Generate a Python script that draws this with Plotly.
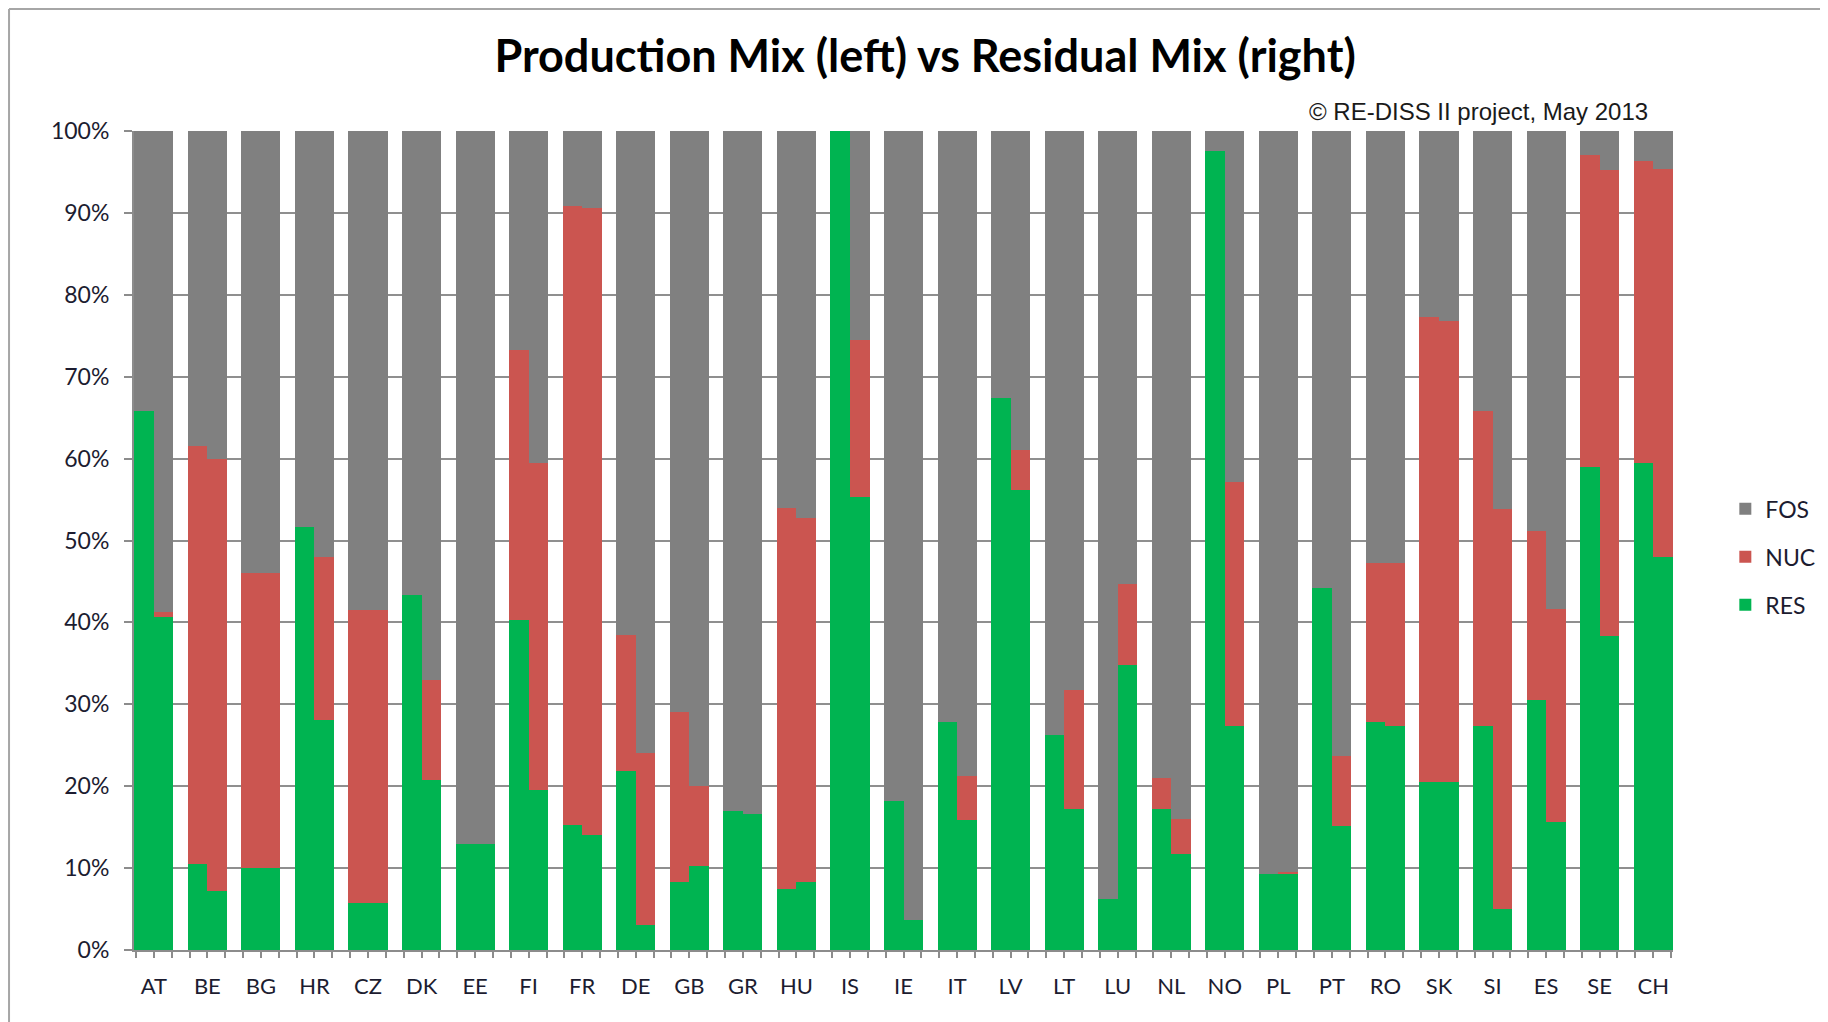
import plotly.graph_objects as go

countries = ["AT", "BE", "BG", "HR", "CZ", "DK", "EE", "FI", "FR", "DE", "GB", "GR", "HU", "IS", "IE",
             "IT", "LV", "LT", "LU", "NL", "NO", "PL", "PT", "RO", "SK", "SI", "ES", "SE", "CH"]

# Production mix (left bar), % shares
prod_res = [65.8, 10.5, 10.0, 51.6, 5.8, 43.4, 13.0, 40.3, 15.3, 21.8, 8.3, 17.0, 7.5, 100.0, 18.2,
            27.8, 67.4, 26.3, 6.2, 17.2, 97.6, 9.3, 44.2, 27.8, 20.5, 27.4, 30.5, 59.0, 59.5]
prod_nuc = [0.0, 51.0, 36.0, 0.0, 35.7, 0.0, 0.0, 32.9, 75.5, 16.7, 20.7, 0.0, 46.5, 0.0, 0.0,
            0.0, 0.0, 0.0, 0.0, 3.8, 0.0, 0.0, 0.0, 19.5, 56.8, 38.4, 20.7, 38.1, 36.8]

# Residual mix (right bar), % shares
resid_res = [40.6, 7.2, 10.0, 28.1, 5.8, 20.8, 13.0, 19.5, 14.0, 3.0, 10.3, 16.6, 8.3, 55.3, 3.7,
             15.9, 56.2, 17.2, 34.8, 11.7, 27.3, 9.3, 15.1, 27.3, 20.5, 5.0, 15.6, 38.3, 48.0]
resid_nuc = [0.7, 52.8, 36.0, 19.9, 35.7, 12.2, 0.0, 40.0, 76.6, 21.0, 9.7, 0.0, 44.5, 19.2, 0.0,
             5.4, 4.8, 14.5, 9.9, 4.3, 29.9, 0.2, 8.6, 20.0, 56.3, 48.8, 26.0, 56.9, 47.3]

TOTAL = 100.0
prod_fos = [TOTAL - r - n for r, n in zip(prod_res, prod_nuc)]
resid_fos = [TOTAL - r - n for r, n in zip(resid_res, resid_nuc)]

tick_pct = list(range(0, 101, 10))

C_FOS = "#808080"
C_NUC = "#cb5550"
C_RES = "#00b451"
BW = 0.365
TXT = "#1c1c30"

xidx = list(range(len(countries)))

fig = go.Figure()

def add_stack(res, nuc, fos, offset, show):
    base_nuc = res
    base_fos = [r + n for r, n in zip(res, nuc)]
    for name, vals, base, col, rank in [("RES", res, [0] * len(res), C_RES, 3),
                                        ("NUC", nuc, base_nuc, C_NUC, 2),
                                        ("FOS", fos, base_fos, C_FOS, 1)]:
        fig.add_trace(go.Bar(
            x=xidx, y=vals, base=base, name=name, marker_color=col,
            marker_line_width=0, offset=offset, width=BW,
            legendgroup=name, legendrank=rank, showlegend=show,
            customdata=countries,
            hovertemplate="%{customdata} " + name + ": %{y:.1f}%<extra></extra>"))

add_stack(prod_res, prod_nuc, prod_fos, -BW, True)
add_stack(resid_res, resid_nuc, resid_fos, 0.0, False)

fig.update_layout(
    width=1828, height=1022,
    margin=dict(l=126, r=163, t=123, b=80, autoexpand=False),
    barmode="overlay",
    plot_bgcolor="white", paper_bgcolor="white",
    font=dict(family="Lato, Open Sans, sans-serif", color=TXT),
    title=dict(text="<b>Production Mix (left) vs Residual Mix (right)</b>",
               x=0.5017, xanchor="center", y=0.953, yanchor="middle",
               font=dict(size=45, family="Lato, Open Sans, sans-serif", color="#000000")),
    legend=dict(x=1.034, xanchor="left", y=0.48, yanchor="middle",
                traceorder="grouped", tracegroupgap=15,
                font=dict(size=23, family="Lato, sans-serif", color=TXT),
                itemwidth=30),
    showlegend=True,
    bargap=0,
)

fig.update_xaxes(
    range=[-0.37, len(countries) - 1 + 0.37],
    tickmode="array", tickvals=xidx, ticktext=countries,
    showgrid=False, zeroline=False,
    showline=True, linecolor="#8c8c8c", linewidth=2,
    ticks="outside", ticklen=6, tickcolor="#8c8c8c", tickwidth=2,
    minor=dict(ticks="outside", ticklen=6, tickcolor="#8c8c8c", tickwidth=2,
               tick0=-1 / 3, dtick=1 / 3),
    ticklabelstandoff=10,
    tickfont=dict(size=22, family="Lato, sans-serif", color=TXT),
)

fig.update_yaxes(
    range=[0, 100],
    tickmode="array", tickvals=tick_pct, ticktext=[f"{v}%" for v in tick_pct],
    showgrid=True, gridcolor="#8f8f8f", gridwidth=2,
    zeroline=False,
    showline=True, linecolor="#8c8c8c", linewidth=2,
    ticks="outside", ticklen=8, tickcolor="#8c8c8c", tickwidth=2,
    ticklabelstandoff=10,
    tickfont=dict(size=23, family="Lato, sans-serif", color=TXT),
)

fig.add_annotation(
    text="© RE-DISS II project, May 2013",
    xref="paper", yref="paper", x=0.985, y=1.024, xanchor="right", yanchor="middle",
    showarrow=False,
    font=dict(size=24, family="Liberation Sans, Arial", color="#1a1a1a"),
)

# outer frame lines (top and left) like the screenshot border
fig.add_shape(type="line", xref="paper", yref="paper", x0=-0.0812, x1=1.106, y0=1.149, y1=1.149,
              line=dict(color="#a6a6a6", width=2))
fig.add_shape(type="line", xref="paper", yref="paper", x0=-0.0812, x1=-0.0812, y0=-0.098, y1=1.149,
              line=dict(color="#a6a6a6", width=2))

fig.write_html("out.html")
